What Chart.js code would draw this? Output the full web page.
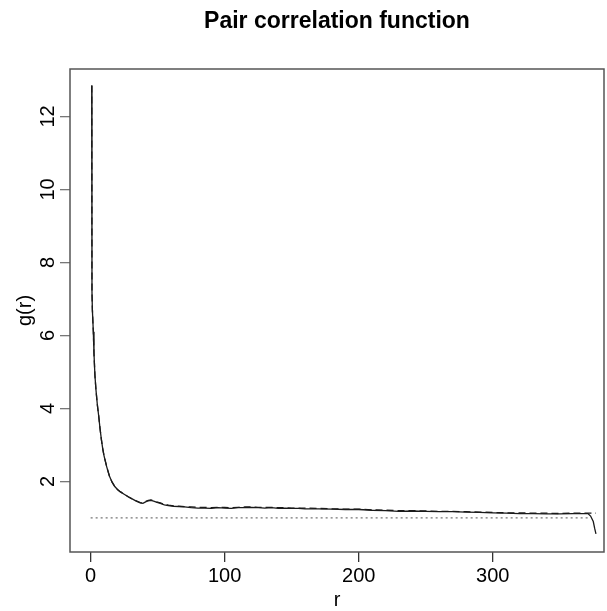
<!DOCTYPE html>
<html>
<head>
<meta charset="utf-8">
<script src="https://cdn.jsdelivr.net/npm/chart.js@4"></script>
<style>
  html, body { margin: 0; padding: 0; background: #fff; }
  canvas { display: block; }
</style>
</head>
<body>
<canvas id="pcf" width="607" height="611"></canvas>
<script>
// distances r
const rVals = [0.8, 1.0, 1.3, 2, 2.5, 3.2, 4, 5, 6, 7, 8, 9, 10, 11, 12, 14, 16, 18, 20, 22,
  25, 28, 31, 34, 37, 39, 41, 43, 45, 47, 49, 52, 55, 58, 62, 66, 70, 75, 80, 85,
  90, 95, 100, 105, 110, 115, 120, 125, 130, 135, 140, 145, 150, 155, 160, 170, 180, 190, 200, 210,
  220, 230, 240, 250, 260, 270, 280, 290, 300, 310, 320, 330, 340, 350, 360, 368, 371, 373, 375, 376, 377];
// g(r), solid estimate
const gSolid = [12.85, 7.2, 6.7, 6.1, 5.5, 4.9, 4.5, 4.1, 3.8, 3.45, 3.15, 2.9, 2.7, 2.55, 2.4, 2.15, 1.98, 1.86, 1.78, 1.72,
  1.65, 1.58, 1.52, 1.46, 1.41, 1.40, 1.44, 1.47, 1.48, 1.46, 1.43, 1.40, 1.36, 1.34, 1.32, 1.31, 1.30, 1.28, 1.27, 1.27,
  1.26, 1.28, 1.27, 1.26, 1.28, 1.28, 1.29, 1.28, 1.27, 1.28, 1.26, 1.27, 1.26, 1.26, 1.25, 1.25, 1.24, 1.23, 1.23, 1.21,
  1.20, 1.18, 1.19, 1.18, 1.17, 1.17, 1.16, 1.15, 1.14, 1.13, 1.12, 1.12, 1.11, 1.11, 1.12, 1.12, 1.12, 1.05, 0.90, 0.72, 0.56];
// g(r), dashed estimate
const gDashed = [12.85, 7.2, 6.7, 6.1, 5.5, 4.9, 4.5, 4.1, 3.8, 3.45, 3.15, 2.9, 2.7, 2.55, 2.4, 2.15, 1.98, 1.86, 1.78, 1.72,
  1.65, 1.58, 1.52, 1.47, 1.42, 1.41, 1.45, 1.48, 1.49, 1.47, 1.44, 1.41, 1.37, 1.35, 1.33, 1.32, 1.31, 1.30, 1.29, 1.29,
  1.28, 1.29, 1.29, 1.28, 1.29, 1.30, 1.30, 1.29, 1.29, 1.29, 1.28, 1.28, 1.27, 1.27, 1.27, 1.26, 1.25, 1.24, 1.24, 1.22,
  1.21, 1.20, 1.20, 1.19, 1.18, 1.18, 1.17, 1.16, 1.15, 1.14, 1.14, 1.13, 1.13, 1.12, 1.13, 1.13, 1.13, 1.13, 1.13, 1.13, 1.13];
// poisson reference g = 1
const rPois = [0, 373];
const gPois = [1, 1];

const xTicks = [0, 100, 200, 300];
const yTicks = [2, 4, 6, 8, 10, 12];

const FONT = "'Liberation Sans', Arial, Helvetica, sans-serif";

function toPts(xs, ys) {
  return xs.map((x, i) => ({ x: x, y: ys[i] }));
}

// box around the plot region, like R's box()
const boxPlugin = {
  id: "plotBox",
  afterDraw(chart) {
    const a = chart.chartArea;
    const ctx = chart.ctx;
    ctx.save();
    ctx.strokeStyle = "#555";
    ctx.lineWidth = 1.5;
    ctx.strokeRect(a.left, a.top, a.right - a.left, a.bottom - a.top);
    ctx.restore();
  }
};

const ctx = document.getElementById("pcf").getContext("2d");
new Chart(ctx, {
  type: "line",
  data: {
    datasets: [
      {
        label: "solid",
        data: toPts(rVals, gSolid),
        borderColor: "#1a1a1a",
        borderWidth: 1.3,
        pointRadius: 0,
        tension: 0
      },
      {
        label: "dashed",
        data: toPts(rVals, gDashed),
        borderColor: "#1a1a1a",
        borderWidth: 1.3,
        borderDash: [7, 4],
        pointRadius: 0,
        tension: 0
      },
      {
        label: "poisson",
        data: toPts(rPois, gPois),
        borderColor: "#777",
        borderWidth: 1.2,
        borderDash: [2, 3],
        pointRadius: 0
      }
    ]
  },
  options: {
    responsive: false,
    animation: false,
    layout: { padding: { top: 0, right: 3, bottom: 0, left: 0 } },
    plugins: {
      legend: { display: false },
      tooltip: { enabled: false },
      title: {
        display: true,
        text: "Pair correlation function",
        fullSize: false,
        color: "#000",
        font: { family: FONT, size: 23, weight: "bold" },
        padding: { top: 7.5, bottom: 33.9 }
      }
    },
    scales: {
      x: {
        type: "linear",
        min: -15.4,
        max: 383,
        afterBuildTicks: (s) => { s.ticks = xTicks.map(v => ({ value: v })); },
        afterFit: (s) => { s.height = 59; },
        grid: { display: true, drawOnChartArea: false, drawTicks: true, tickLength: 10, color: "#333", lineWidth: 1.3 },
        border: { display: false },
        ticks: { color: "#000", font: { family: FONT, size: 20 }, padding: 2, maxRotation: 0, autoSkip: false },
        title: { display: true, text: "r", color: "#000", font: { family: FONT, size: 20 }, padding: { top: 0, bottom: -1 } }
      },
      y: {
        type: "linear",
        min: 0.066,
        max: 13.3,
        afterBuildTicks: (s) => { s.ticks = yTicks.map(v => ({ value: v })); },
        afterFit: (s) => { s.width = 70; },
        grid: { display: true, drawOnChartArea: false, drawTicks: true, tickLength: 10, color: "#777", lineWidth: 1.3 },
        border: { display: false },
        ticks: { color: "#000", font: { family: FONT, size: 20 }, padding: 0, minRotation: 90, maxRotation: 90, crossAlign: "center", autoSkip: false },
        title: { display: true, text: "g(r)", color: "#000", font: { family: FONT, size: 20 }, padding: { top: 13, bottom: 0 } }
      }
    }
  },
  plugins: [boxPlugin]
});
</script>
</body>
</html>
